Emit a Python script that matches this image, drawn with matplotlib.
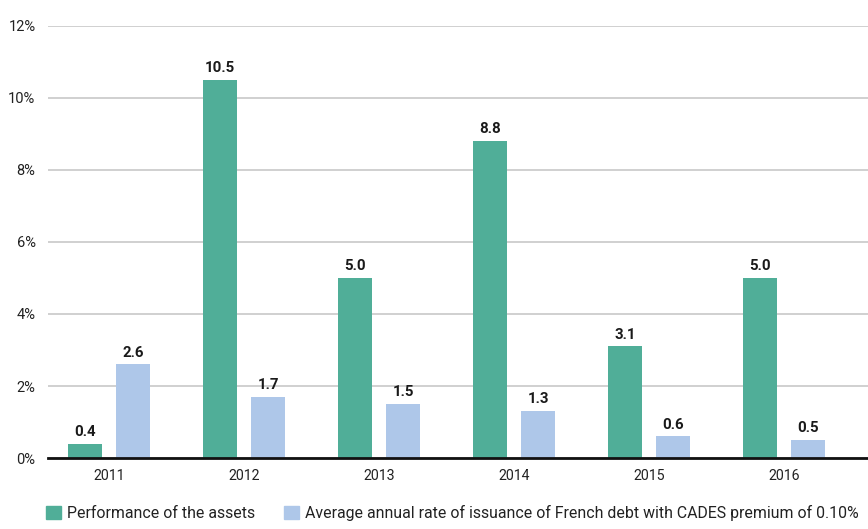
import matplotlib.pyplot as plt
import numpy as np
from matplotlib.patches import Patch

years = ['2011', '2012', '2013', '2014', '2015', '2016']
assets = [0.4, 10.5, 5.0, 8.8, 3.1, 5.0]
debt_rate = [2.6, 1.7, 1.5, 1.3, 0.6, 0.5]
series_names = ['Performance of the assets',
                'Average annual rate of issuance of French debt with CADES premium of 0.10%']

green = '#50ae98'
blue = '#aec7e9'

plt.rcParams['font.family'] = ['Roboto', 'DejaVu Sans']

fig = plt.figure(figsize=(8.68, 5.29), dpi=100)
ax = fig.add_axes([0.0553, 0.1342, 0.9447, 0.8167])

x = np.arange(len(years))
w = 0.252
off = 0.178
b1 = ax.bar(x - off, assets, w, color=green, zorder=3)
b2 = ax.bar(x + off, debt_rate, w, color=blue, zorder=3)

for bars, vals in ((b1, assets), (b2, debt_rate)):
    for b, v in zip(bars, vals):
        ax.annotate(f'{v:.1f}', (b.get_x() + b.get_width() / 2, v),
                    xytext=(0, 3.5), textcoords='offset points',
                    ha='center', va='bottom', fontsize=10.8, fontweight='bold',
                    color='#1a1a1a')

ax.set_xlim(-0.452, 5.622)
ax.set_ylim(0, 12)
ax.set_yticks(range(0, 13, 2))
ax.set_yticklabels([f'{v}%' for v in range(0, 13, 2)])
ax.set_xticks(x)
ax.set_xticklabels(years)
ax.tick_params(axis='both', length=0, colors='#222222')
ax.tick_params(axis='y', pad=9, labelsize=10.5)
ax.tick_params(axis='x', pad=8, labelsize=10.2)
ax.yaxis.grid(True, color='#c8c8c8', linewidth=1.2, zorder=0)
for s in ['top', 'right', 'left']:
    ax.spines[s].set_visible(False)
ax.spines['bottom'].set_color('#111111')
ax.spines['bottom'].set_linewidth(2)
ax.spines['bottom'].set_zorder(4)

handles = [Patch(color=green), Patch(color=blue)]
fig.legend(handles, series_names, loc='lower left', bbox_to_anchor=(0.037, -0.012),
           ncol=2, frameon=False, fontsize=11.4, handlelength=0.95, handleheight=0.95,
           handletextpad=0.35, columnspacing=1.85, labelcolor='#222222')

fig.savefig('out.png', dpi=100)
